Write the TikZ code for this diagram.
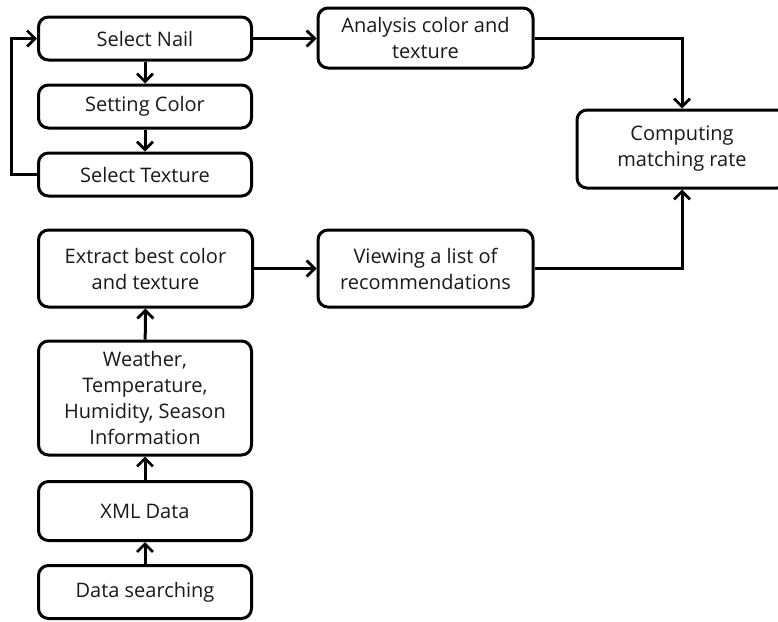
\documentclass[tikz,border=0pt]{standalone}
\usepackage{fontspec}
\setmainfont{Open Sans}
\usetikzlibrary{arrows.meta}
\begin{document}
\begin{tikzpicture}[x=1pt,y=-1pt,
  box/.style={draw=black, line width=3pt, rounded corners=10pt, align=center,
    inner sep=0pt, font=\fontsize{20}{26}\selectfont, text=black!90},
  conn/.style={draw=black, line width=3pt, -{Straight Barb[length=8pt,width=16pt,line width=2.8pt]}}]
\useasboundingbox (0,0) rectangle (778,621);
\node[box, minimum width=213pt, minimum height=43pt] (nail) at (145,38.5) {Select Nail};
\node[box, minimum width=213pt, minimum height=43pt] (color) at (145,106.5) {Setting Color};
\node[box, minimum width=213pt, minimum height=43pt] (texture) at (145,174.5) {Select Texture};
\node[box, minimum width=215pt, minimum height=60pt] (analysis) at (425.5,38) {Analysis color and\\texture};
\node[box, minimum width=210pt, minimum height=78pt] (compute) at (682,149) {Computing\\matching rate};
\node[box, minimum width=214pt, minimum height=77pt] (extract) at (145.5,268.5) {Extract best color\\and texture};
\node[box, minimum width=215pt, minimum height=77pt] (viewing) at (425.5,268.5) {Viewing a list of\\recommendations};
\node[box, minimum width=213pt, minimum height=114pt] (weather) at (145,398) {Weather,\\Temperature,\\Humidity, Season\\Information};
\node[box, minimum width=213pt, minimum height=59pt] (xml) at (145,511) {XML Data};
\node[box, minimum width=213pt, minimum height=53pt] (search) at (145,592) {Data searching};
\coordinate (loopx) at (11,174.5);
\draw[conn] (nail) -- (color);
\draw[conn] (color) -- (texture);
\draw[conn] (texture.west) -- (loopx) |- (nail.west);
\draw[conn] (nail.east) -- (analysis.west |- nail.east);
\draw[conn] (analysis.east) -| (compute.north);
\draw[conn] (viewing.east) -| (compute.south);
\draw[conn] (extract) -- (viewing);
\draw[conn] (weather) -- (extract);
\draw[conn] (xml) -- (weather);
\draw[conn] (search) -- (xml);
\end{tikzpicture}
\end{document}
